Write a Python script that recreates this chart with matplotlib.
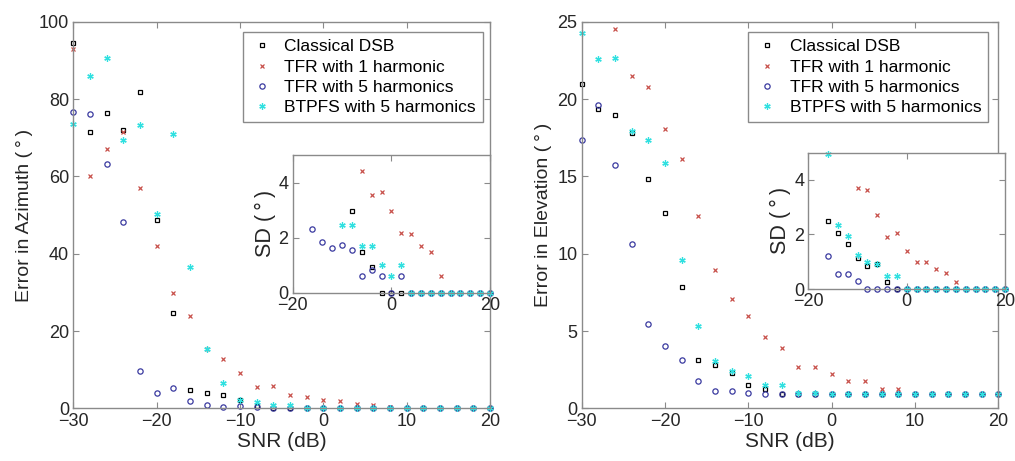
import numpy as np
import matplotlib
matplotlib.use("Agg")
import matplotlib.pyplot as plt

plt.rcParams['font.family'] = ['Liberation Sans', 'DejaVu Sans']

# SNR grid for the main plots and the insets
snr = np.arange(-30, 21, 2)
snr_inset = np.arange(-20, 21, 2)

labels = ['Classical DSB', 'TFR with 1 harmonic', 'TFR with 5 harmonics', 'BTPFS with 5 harmonics']

# Error in azimuth (deg)
az_dsb = [94.6, 71.4, 76.5, 72.0, 81.9, 48.7, 24.8, 4.9, 4.1, 3.5, 2.1, 0.6, 0.2, 0.1,
          0, 0, 0, 0, 0, 0, 0, 0, 0, 0, 0, 0]
az_tfr1 = [92.9, 60.0, 67.0, 71.6, 56.9, 42.1, 29.8, 23.9, 15.3, 12.9, 9.1, 5.6, 5.8, 3.5,
           3.1, 2.3, 1.9, 1.2, 0.8, 0.5, 0.2, 0.1, 0, 0, 0, 0]
az_tfr5 = [76.7, 76.1, 63.3, 48.3, 9.7, 4.1, 5.2, 1.9, 0.8, 0.3, 0.6, 0.3, 0, 0,
           0, 0, 0, 0, 0, 0, 0, 0, 0, 0, 0, 0]
az_btpfs = [73.6, 85.9, 90.7, 69.5, 73.3, 50.2, 70.9, 36.6, 15.3, 6.7, 2.3, 1.7, 0.8, 0.8,
            0.1, 0, 0, 0, 0, 0, 0, 0, 0, 0, 0, 0]

# SD of azimuth (deg), inset; nan = above the inset's y-limit
az_sd_dsb = [np.nan] * 6 + [2.98, 1.48, 0.92, 0, 0, 0, 0, 0, 0, 0, 0, 0, 0, 0, 0]
az_sd_tfr1 = [np.nan] * 7 + [4.42, 3.53, 3.64, 2.98, 2.17, 2.13, 1.70, 1.48, 0.59, 0, 0, 0, 0, 0]
az_sd_tfr5 = [np.nan] * 2 + [2.32, 1.85, 1.62, 1.73, 1.56, 0.59, 0.82, 0.59, 0, 0.59,
                             0, 0, 0, 0, 0, 0, 0, 0, 0]
az_sd_btpfs = [np.nan] * 5 + [2.47, 2.47, 1.68, 1.68, 0.99, 0.59, 0.99, 0, 0, 0, 0, 0, 0, 0, 0, 0]

# Error in elevation (deg)
el_dsb = [21.0, 19.35, 18.94, 17.82, 14.82, 12.65, 7.84, 3.15, 2.80, 2.31, 1.51, 1.25, 0.95, 0.95,
          0.95, 0.95, 0.95, 0.95, 0.95, 0.95, 0.95, 0.95, 0.95, 0.95, 0.95, 0.95]
el_tfr1 = [np.nan, np.nan, 24.56, 21.52, 20.75, 18.07, 16.1, 12.46, 8.92, 7.07, 5.99, 4.63, 3.94, 2.65,
           2.65, 2.22, 1.79, 1.79, 1.23, 1.23, 0.95, 0.95, 0.95, 0.95, 0.95, 0.95]
el_tfr5 = [17.34, 19.63, 15.77, 10.62, 5.47, 4.07, 3.15, 1.77, 1.10, 1.10, 0.99, 0.95, 0.95, 0.95,
           0.95, 0.95, 0.95, 0.95, 0.95, 0.95, 0.95, 0.95, 0.95, 0.95, 0.95, 0.95]
el_btpfs = [24.28, 22.62, 22.66, 17.93, 17.33, 15.84, 9.59, 5.32, 3.10, 2.44, 2.07, 1.51, 1.51, 1.03,
            1.03, 0.95, 0.95, 0.95, 0.95, 0.95, 0.95, 0.95, 0.95, 0.95, 0.95, 0.95]

# SD of elevation (deg), inset
el_sd_dsb = [np.nan] * 2 + [2.48, 2.04, 1.66, 1.14, 0.85, 0.9, 0.27, 0, 0, 0, 0, 0, 0, 0, 0, 0, 0, 0, 0]
el_sd_tfr1 = [np.nan] * 5 + [3.72, 3.64, 2.70, 1.90, 2.05, 1.38, 0.99, 0.99, 0.72, 0.59, 0.27,
                             0, 0, 0, 0, 0]
el_sd_tfr5 = [np.nan] * 2 + [1.2, 0.55, 0.55, 0.29, 0, 0, 0, 0, 0, 0, 0, 0, 0, 0, 0, 0, 0, 0, 0]
el_sd_btpfs = [np.nan] * 2 + [4.97, 2.33, 1.93, 1.24, 0.99, 0.91, 0.47, 0.47,
                              0, 0, 0, 0, 0, 0, 0, 0, 0, 0, 0]

styles = [
    dict(marker='s', color='black', ms=3.0),
    dict(marker='x', color='#c8504a', ms=3.4),
    dict(marker='o', color='#3a3aa0', ms=3.8),
    dict(marker=(6, 2, 0), color='#30e0e0', ms=4.6),
]

AX_COL = '#8a8a8a'
TXT_COL = '#262626'
DEG = '(\u2009°\u2009)'


def style_axes(ax, fs=13):
    for sp in ax.spines.values():
        sp.set_color(AX_COL)
        sp.set_linewidth(1.0)
    ax.tick_params(direction='in', top=True, right=True, length=4, width=0.8,
                   color=AX_COL, labelcolor=TXT_COL, labelsize=fs, pad=3)


def scatter_series(ax, x, series):
    handles = []
    for ys, st, lab in zip(series, styles, labels):
        h, = ax.plot(x, ys, linestyle='none', marker=st['marker'], markersize=st['ms'],
                     markerfacecolor='none', markeredgecolor=st['color'],
                     markeredgewidth=0.9, label=lab, clip_on=False)
        handles.append(h)
    return handles


def add_legend(ax, handles, xanchor):
    leg = ax.legend(handles=handles, loc='upper right', bbox_to_anchor=(xanchor, 0.973),
                    fontsize=12.5, numpoints=1, handlelength=1.4, handletextpad=0.6,
                    borderpad=0.4, labelspacing=0.3, fancybox=False, framealpha=1,
                    borderaxespad=0)
    leg.get_frame().set_edgecolor(AX_COL)
    leg.get_frame().set_linewidth(1.0)


fig = plt.figure(figsize=(10.15, 4.61), dpi=100)

# ---- left: azimuth ----
ax1 = fig.add_axes([0.0722, 0.1139, 0.4105, 0.8390])
h = scatter_series(ax1, snr, [az_dsb, az_tfr1, az_tfr5, az_btpfs])
ax1.set_xlim(-30, 20)
ax1.set_ylim(0, 100)
ax1.set_xticks([-30, -20, -10, 0, 10, 20])
ax1.set_yticks([0, 20, 40, 60, 80, 100])
ax1.set_xlabel('SNR (dB)', fontsize=15, color=TXT_COL, labelpad=2)
ax1.set_ylabel('Error in Azimuth ' + DEG, fontsize=14, color=TXT_COL, labelpad=4)
style_axes(ax1)
add_legend(ax1, h, 0.983)

ax1i = fig.add_axes([0.2884, 0.3651, 0.1944, 0.2987])
scatter_series(ax1i, snr_inset, [az_sd_dsb, az_sd_tfr1, az_sd_tfr5, az_sd_btpfs])
ax1i.set_xlim(-20, 20)
ax1i.set_ylim(0, 5)
ax1i.set_xticks([-20, 0, 20])
ax1i.set_yticks([0, 2, 4])
ax1i.set_ylabel('SD ' + DEG, fontsize=15.5, color=TXT_COL, labelpad=2)
style_axes(ax1i)

# ---- right: elevation ----
ax2 = fig.add_axes([0.5731, 0.1139, 0.4105, 0.8390])
h = scatter_series(ax2, snr, [el_dsb, el_tfr1, el_tfr5, el_btpfs])
ax2.set_xlim(-30, 20)
ax2.set_ylim(0, 25)
ax2.set_xticks([-30, -20, -10, 0, 10, 20])
ax2.set_yticks([0, 5, 10, 15, 20, 25])
ax2.set_xlabel('SNR (dB)', fontsize=15, color=TXT_COL, labelpad=2)
ax2.set_ylabel('Error in Elevation ' + DEG, fontsize=14, color=TXT_COL, labelpad=4)
style_axes(ax2)
add_legend(ax2, h, 0.976)

ax2i = fig.add_axes([0.7964, 0.3731, 0.1938, 0.2957])
scatter_series(ax2i, snr_inset, [el_sd_dsb, el_sd_tfr1, el_sd_tfr5, el_sd_btpfs])
ax2i.set_xlim(-20, 20)
ax2i.set_ylim(0, 5)
ax2i.set_xticks([-20, 0, 20])
ax2i.set_yticks([0, 2, 4])
ax2i.set_ylabel('SD ' + DEG, fontsize=15.5, color=TXT_COL, labelpad=2)
style_axes(ax2i)

fig.savefig('out.png', dpi=100, facecolor='white')
